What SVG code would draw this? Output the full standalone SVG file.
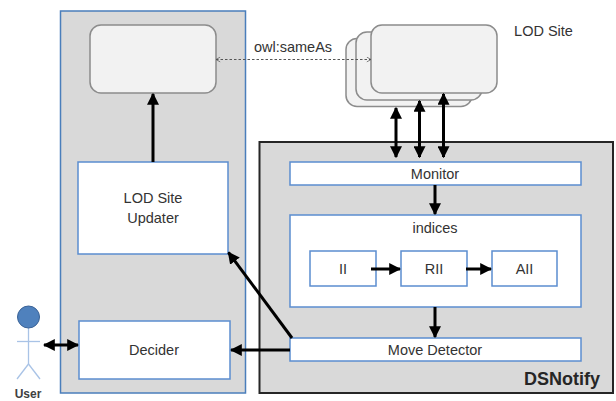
<svg xmlns="http://www.w3.org/2000/svg" width="616" height="401" viewBox="0 0 616 401">
<style>
  .panel{fill:#d9d9d9;}
  .box{fill:#ffffff;stroke:#5b8dcf;stroke-width:1.5;}
  .site{fill:#f2f2f2;stroke:#8c8c8c;stroke-width:1.5;}
  .t{font-family:"Liberation Sans",Arial,sans-serif;font-size:14.5px;fill:#333;text-anchor:middle;}
  .c{stroke:#000;stroke-width:3;fill:none;}
</style>
<defs>
  <marker id="ah" viewBox="0 0 10 10" refX="9" refY="5" markerWidth="4" markerHeight="4" orient="auto-start-reverse" markerUnits="strokeWidth">
    <path d="M0,0 L10,5 L0,10 z" fill="#000"/>
  </marker>
  <marker id="oh" viewBox="0 0 10 10" refX="9" refY="5" markerWidth="6" markerHeight="6" orient="auto-start-reverse" markerUnits="userSpaceOnUse">
    <path d="M2,1 L9,5 L2,9" fill="none" stroke="#555" stroke-width="1.2"/>
  </marker>
</defs>
<rect width="616" height="401" fill="#fff"/>

<g id="left-panel">
  <rect class="panel" x="60.5" y="11" width="185" height="382" stroke="#4a7ebb" stroke-width="1.5"/>
</g>
<g id="dsnotify">
  <rect class="panel" x="259.5" y="142" width="353.5" height="251" stroke="#262626" stroke-width="2"/>
  <text x="600" y="385" font-family="Liberation Sans,Arial,sans-serif" font-size="18" font-weight="bold" fill="#262626" text-anchor="end">DSNotify</text>
</g>

<g id="local-store">
  <rect class="site" x="90" y="25" width="126" height="68" rx="11"/>
</g>
<g id="lod-sites">
  <rect class="site" x="346" y="38.5" width="126" height="68" rx="11"/>
  <rect class="site" x="356" y="32" width="126" height="68" rx="11"/>
  <rect class="site" x="371" y="25" width="126" height="68" rx="11"/>
  <text class="t" x="543.5" y="36" font-size="13.5">LOD Site</text>
</g>

<g id="lod-site-updater">
  <rect class="box" x="78" y="162" width="150" height="92"/>
  <text class="t" x="153" y="203">LOD Site</text>
  <text class="t" x="153" y="223">Updater</text>
</g>
<g id="decider">
  <rect class="box" x="79" y="321" width="151" height="58"/>
  <text class="t" x="154" y="355">Decider</text>
</g>
<g id="monitor">
  <rect class="box" x="290" y="162" width="291" height="23"/>
  <text class="t" x="435" y="179">Monitor</text>
</g>
<g id="indices">
  <rect class="box" x="290" y="215" width="291" height="92"/>
  <text class="t" x="435" y="233">indices</text>
</g>
<g id="ii">
  <rect class="box" x="310" y="251" width="66" height="35"/>
  <text class="t" x="343" y="274">II</text>
</g>
<g id="rii">
  <rect class="box" x="401" y="251" width="66" height="35"/>
  <text class="t" x="434" y="274">RII</text>
</g>
<g id="aii">
  <rect class="box" x="492" y="251" width="65" height="35"/>
  <text class="t" x="524.5" y="274">AII</text>
</g>
<g id="move-detector">
  <rect class="box" x="290" y="338" width="291" height="23"/>
  <text class="t" x="435" y="355">Move Detector</text>
</g>

<g id="user">
  <g stroke="#a9c3e6" stroke-width="1.3" fill="none">
    <line x1="28.5" y1="328" x2="28.5" y2="364"/>
    <line x1="17" y1="341.5" x2="40" y2="341.5"/>
    <line x1="28.5" y1="364" x2="17" y2="379"/>
    <line x1="28.5" y1="364" x2="40" y2="379"/>
  </g>
  <circle cx="28.5" cy="317" r="11" fill="#4f81bd" stroke="#3a6296" stroke-width="1"/>
  <text x="28" y="398" font-family="Liberation Sans,Arial,sans-serif" font-size="12" font-weight="bold" fill="#404040" text-anchor="middle">User</text>
</g>

<g id="connectors">
  <line x1="153" y1="162" x2="153" y2="94" class="c" marker-end="url(#ah)"/>
  <line x1="216" y1="59.5" x2="371" y2="59.5" stroke="#555" stroke-width="1" stroke-dasharray="2.5,2" marker-start="url(#oh)" marker-end="url(#oh)"/>
  <text class="t" x="293" y="52" font-size="13.5">owl:sameAs</text>
  <line x1="396" y1="108" x2="396" y2="157" class="c" marker-start="url(#ah)" marker-end="url(#ah)"/>
  <line x1="419.5" y1="101" x2="419.5" y2="157" class="c" marker-start="url(#ah)" marker-end="url(#ah)"/>
  <line x1="443.5" y1="94" x2="443.5" y2="157" class="c" marker-start="url(#ah)" marker-end="url(#ah)"/>
  <line x1="435" y1="185" x2="435" y2="214" class="c" marker-end="url(#ah)"/>
  <line x1="435" y1="307" x2="435" y2="337" class="c" marker-end="url(#ah)"/>
  <line x1="371" y1="269" x2="400" y2="269" class="c" marker-end="url(#ah)"/>
  <line x1="466" y1="269" x2="491" y2="269" class="c" marker-end="url(#ah)"/>
  <line x1="290" y1="350" x2="231" y2="350" class="c" marker-end="url(#ah)"/>
  <line x1="292" y1="338" x2="228.5" y2="252.5" class="c" marker-end="url(#ah)"/>
  <line x1="44" y1="345" x2="78" y2="345" class="c" marker-start="url(#ah)" marker-end="url(#ah)"/>
</g>
</svg>
